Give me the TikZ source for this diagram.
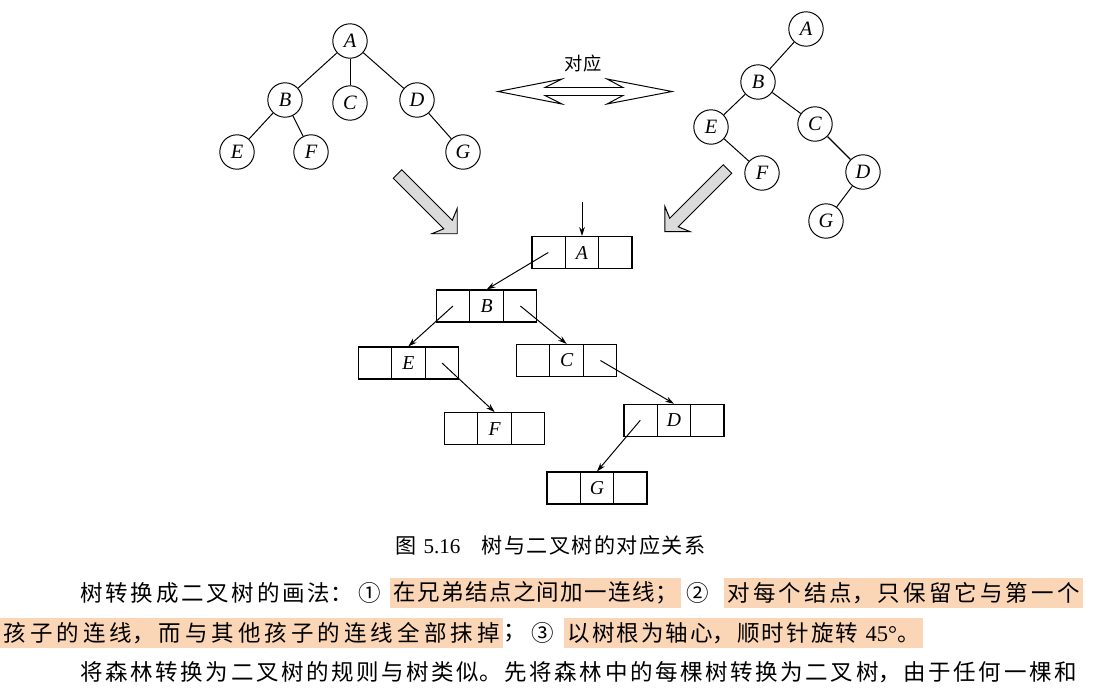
\documentclass[tikz,border=0pt]{standalone}
\usepackage{fontspec}
\setmainfont{Liberation Serif}
\newfontfamily\cjk{Noto Sans CJK SC}
\usetikzlibrary{calc,arrows.meta}
\XeTeXlinebreaklocale "zh"
\XeTeXlinebreakskip=0pt plus 1fil
\definecolor{hilite}{RGB}{250,213,182}
\def\cells(#1){\draw ($(#1.north west)!1/3!(#1.north east)$) -- ($(#1.south west)!1/3!(#1.south east)$); \draw ($(#1.north west)!2/3!(#1.north east)$) -- ($(#1.south west)!2/3!(#1.south east)$);}
\def\fatarrow(#1)(#2:#3){\begin{scope}[shift={(#1)}, rotate=#2] \draw[fill=black!14] (0,-6) -- (#3-13,-6) -- (#3-18,-18) -- (#3,0) -- (#3-18,18) -- (#3-13,6) -- (0,6) -- cycle; \end{scope}}

\begin{document}
\begin{tikzpicture}[x=0.025cm, y=-0.025cm, line width=0.7pt,
	tnode/.style={circle, draw, minimum size=0.86cm, inner sep=0, font=\fontsize{14.5}{16}\selectfont\itshape},
	rec/.style={draw, line width=0.8pt, minimum width=2.5cm, minimum height=0.8cm, inner sep=0, font=\fontsize{14}{16}\selectfont\itshape},
	link/.style={-{Stealth[length=2.2mm,width=1.4mm]}},
	body/.style={anchor=west, inner sep=0, font=\cjk\fontsize{16}{19}\selectfont, execute at begin node={\parfillskip=0pt\noindent}},
	hl/.style={body, fill=hilite, inner xsep=0.075cm, minimum height=0.75cm}]
			%%%%% START %%%%%
			
			\useasboundingbox (0,0) rectangle (1101,691);
			
			% tree
			\node[tnode] (lA) at (350,41) {A};
			\node[tnode] (lB) at (285,100) {B};
			\node[tnode] (lC) at (350,103) {C};
			\node[tnode] (lD) at (417,100) {D};
			\node[tnode] (lE) at (237,152) {E};
			\node[tnode] (lF) at (311,152) {F};
			\node[tnode] (lG) at (463,152) {G};
			\draw (lA) -- (lB);
			\draw (lA) -- (lC);
			\draw (lA) -- (lD);
			\draw (lB) -- (lE);
			\draw (lB) -- (lF);
			\draw (lD) -- (lG);
			
			% binary tree
			\node[tnode] (rA) at (806,29) {A};
			\node[tnode] (rB) at (758,82) {B};
			\node[tnode] (rE) at (711,127) {E};
			\node[tnode] (rC) at (815,124) {C};
			\node[tnode] (rF) at (762,173) {F};
			\node[tnode] (rD) at (863,172) {D};
			\node[tnode] (rG) at (826,221) {G};
			\draw (rA) -- (rB);
			\draw (rB) -- (rE);
			\draw (rB) -- (rC);
			\draw (rE) -- (rF);
			\draw[line width=1pt] (rC) -- (rD);
			\draw (rD) -- (rG);
			
			\node[font=\cjk\fontsize{13}{15}\selectfont] (dui) at (583,64) {对应};
			\draw (498,91.5) -- (562,79) -- (545,87.5) -- (623,87.5) -- (607,79) -- (672,91.5) -- (607,104) -- (623,95.5) -- (545,95.5) -- (562,104) -- cycle;
			
			\fatarrow(397.5,174)(-45:84.5)
			\fatarrow(727.5,169)(-135:88.7)
			
			% linked storage
			\node[rec] (cA) at (582,252.5) {A};
			\node[rec] (cB) at (486.7,306) {B};
			\node[rec] (cE) at (408.3,363) {E};
			\node[rec] (cC) at (566.7,360.5) {C};
			\node[rec] (cF) at (494.7,428.7) {F};
			\node[rec] (cD) at (674,420.3) {D};
			\node[rec] (cG) at (597,488) {G};
			\cells(cA) \cells(cB) \cells(cE) \cells(cC) \cells(cF) \cells(cD) \cells(cG)
			
			\coordinate (root) at (582,202);
			\draw[link] (root) -- (cA.north);
			\draw[link] ($(cA.west)!1/6!(cA.east)$) -- (cB.north);
			\draw[link] ($(cB.west)!1/6!(cB.east)$) -- (cE.north);
			\draw[link] ($(cB.west)!5/6!(cB.east)$) -- (cC.north);
			\draw[link] ($(cE.west)!5/6!(cE.east)$) -- (cF.north);
			\draw[link] ($(cC.west)!5/6!(cC.east)$) -- (cD.north);
			\draw[link] ($(cD.west)!1/6!(cD.east)$) -- (cG.north);
			
			% caption
			\node[body, font=\fontsize{15}{18}\selectfont, text width=7.75cm] (cap) at (395,545) {{\cjk 图} 5.16\quad{\cjk 树与二叉树的对应关系}};
			
			% text
			\node[body, text width=6.8cm] (t1) at (80,593) {树转换成二叉树的画法：};
			\node[body] (n1) at (358,593) {①};
			\node[hl, text width=7.1cm] (h1) at (390,593) {在兄弟结点之间加一连线；};
			\node[body] (n2) at (686,593) {②};
			\node[hl, text width=8.8cm] (h2) at (724,593) {对每个结点，只保留它与第一个};
			
			\node[hl, text width=12.4cm] (h3) at (0,633) {孩子的连线，而与其他孩子的连线全部抹掉};
			\node[body] (t2) at (503,633) {；};
			\node[body] (n3) at (531,633) {③};
			\node[hl, text width=8.8cm] (h4) at (564,633) {以树根为轴心，顺时针旋转 {\rmfamily 45°}。};
			
			\node[body, text width=24.9cm] (t3) at (80,672) {将森林转换为二叉树的规则与树类似。先将森林中的每棵树转换为二叉树，由于任何一棵和};
			
			%%%%% END %%%%%
\end{tikzpicture}
\end{document}
